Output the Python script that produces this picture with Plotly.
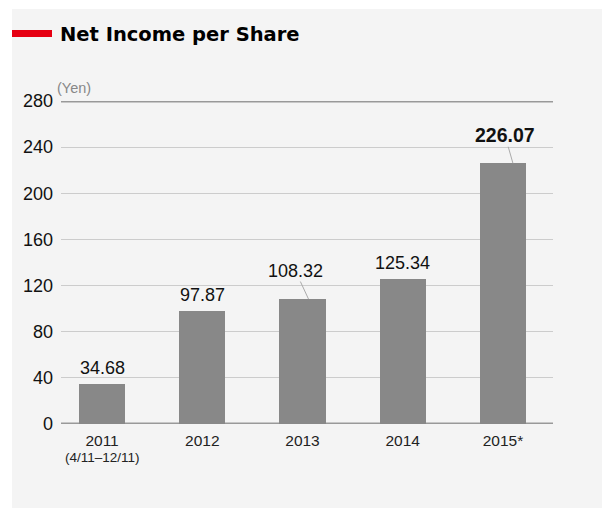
import plotly.graph_objects as go

# Net income per share (Yen) by fiscal year
years = ["2011", "2012", "2013", "2014", "2015*"]
year_notes = ["(4/11–12/11)", "", "", "", ""]
eps = [34.68, 97.87, 108.32, 125.34, 226.07]
value_labels = ["34.68", "97.87", "108.32", "125.34", "226.07"]
y_ticks = [0, 40, 80, 120, 160, 200, 240, 280]

BAR = "#888888"
PANEL = "#f4f4f4"
GRID = "#cccccc"
RULE = "#999999"
FONT = "Liberation Sans, Arial, sans-serif"

# plot-area geometry in pixels (used to place the card edges and title)
L, R, T, B = 61, 553, 101, 424
PW, PH = R - L, B - T

xs = list(range(len(years)))

fig = go.Figure(
    go.Bar(
        x=xs,
        y=eps,
        width=0.46,
        marker=dict(color=BAR, line=dict(width=0)),
        hoverinfo="skip",
    )
)

# white page border on the left and top of the grey card
fig.add_shape(type="rect", xref="paper", yref="paper",
              x0=(-5 - L) / PW, x1=(12 - L) / PW,
              y0=(B - 520) / PH, y1=(B + 5) / PH,
              fillcolor="#ffffff", line=dict(width=0), layer="below")
fig.add_shape(type="rect", xref="paper", yref="paper",
              x0=(-5 - L) / PW, x1=(610 - L) / PW,
              y0=(B - 9) / PH, y1=(B + 5) / PH,
              fillcolor="#ffffff", line=dict(width=0), layer="below")

# heavy rules at top and baseline
for yv in (0, 280):
    fig.add_shape(type="line", xref="paper", yref="y", x0=0, x1=1, y0=yv, y1=yv,
                  line=dict(color=RULE, width=3), layer="below")

# value labels
leader = {2: (0.06, -13, -28), 4: (0.10, -8, -28)}
for i, (v, t) in enumerate(zip(eps, value_labels)):
    bold = i == len(eps) - 1
    txt = f"<b>{t}</b>" if bold else t
    size = 19.5 if bold else 18
    if i in leader:
        dx, ax, ay = leader[i]
        fig.add_annotation(x=i + dx, y=v, text=txt, showarrow=True, arrowhead=0,
                           arrowwidth=1, arrowcolor="#aaaaaa", ax=ax, ay=ay,
                           font=dict(family=FONT, size=size, color="#111111"),
                           borderpad=0)
    else:
        fig.add_annotation(x=i, y=v, text=txt, showarrow=False, yanchor="bottom",
                           yshift=4, font=dict(family=FONT, size=size, color="#111111"))

# sub-labels under the year ticks
for i, note in enumerate(year_notes):
    if note:
        fig.add_annotation(x=i, y=0, yref="y", text=note, showarrow=False,
                           yanchor="middle", yshift=-33,
                           font=dict(family=FONT, size=13.5, color="#222222"))

# unit label
fig.add_annotation(xref="paper", yref="y", x=(55 - L) / PW, y=280, text="(Yen)",
                   showarrow=False, xanchor="left", yanchor="bottom", yshift=3,
                   font=dict(family=FONT, size=14.5, color="#888888"))

# title with red marker bar
fig.add_shape(type="rect", xref="paper", yref="paper",
              x0=(12 - L) / PW, x1=(52 - L) / PW,
              y0=(B - 37) / PH, y1=(B - 30) / PH,
              fillcolor="#e60012", line=dict(width=0))
fig.add_annotation(xref="paper", yref="paper", x=(58 - L) / PW, y=(B - 34) / PH,
                   text="<b>Net Income per Share</b>", showarrow=False,
                   xanchor="left", yanchor="middle",
                   font=dict(family="DejaVu Sans, sans-serif", size=19.5, color="#000000"))

fig.update_layout(
    width=602,
    height=508,
    margin=dict(l=L, r=602 - R, t=T, b=508 - B),
    paper_bgcolor=PANEL,
    plot_bgcolor=PANEL,
    showlegend=False,
    bargap=0,
    xaxis=dict(
        range=[-0.41, 4.5],
        tickmode="array",
        tickvals=xs,
        ticktext=years,
        showgrid=False,
        zeroline=False,
        showline=False,
        ticks="",
        ticklabelstandoff=5,
        tickfont=dict(family=FONT, size=15.5, color="#222222"),
        fixedrange=True,
    ),
    yaxis=dict(
        range=[0, 280],
        tickmode="array",
        tickvals=y_ticks,
        showgrid=True,
        gridcolor=GRID,
        gridwidth=1,
        zeroline=False,
        showline=False,
        ticks="",
        ticklabelstandoff=7,
        tickfont=dict(family=FONT, size=18, color="#111111"),
        fixedrange=True,
    ),
)

fig.write_html("out.html")
